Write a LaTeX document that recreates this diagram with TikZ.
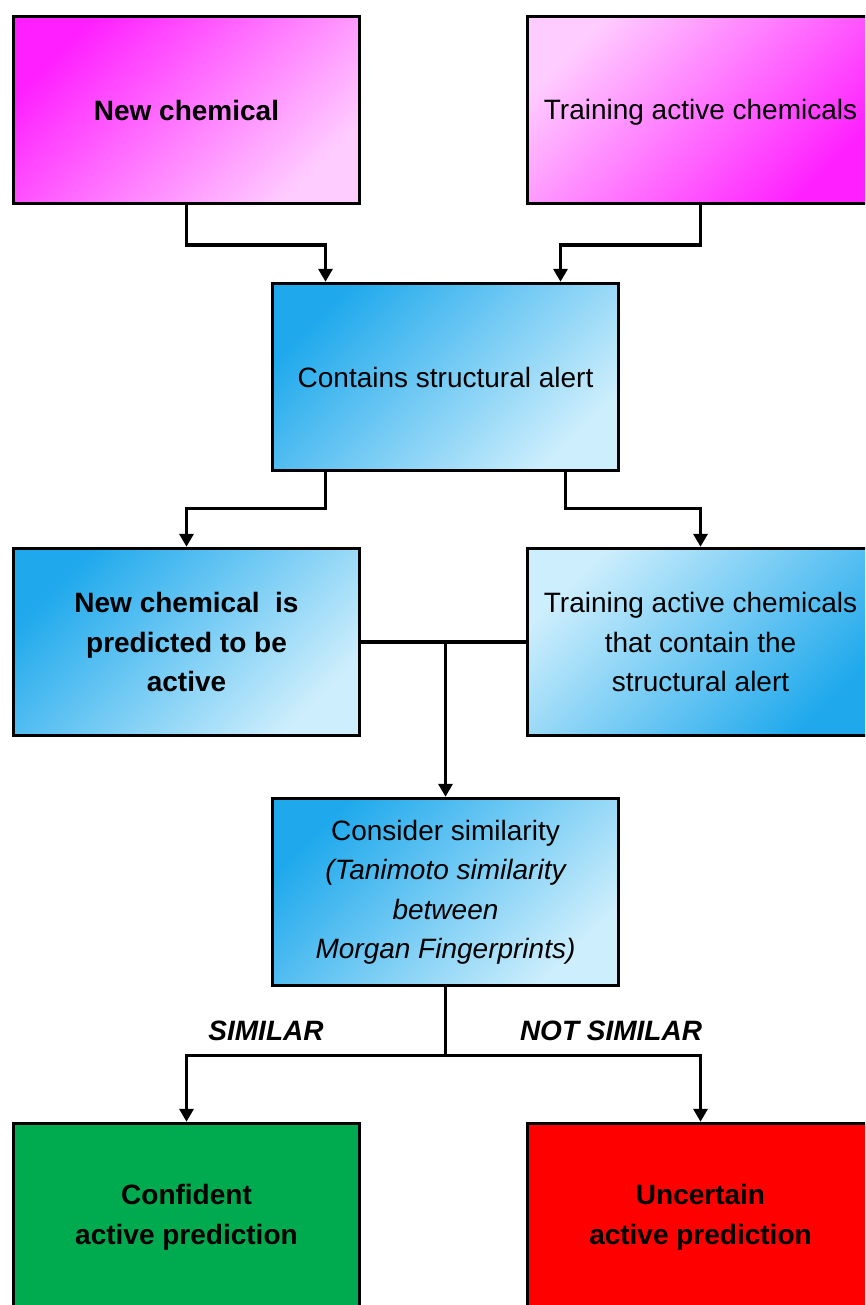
\documentclass[tikz,border=0pt]{standalone}
\usepackage{fontspec}
\setmainfont{Liberation Sans}
\usetikzlibrary{arrows.meta}
\definecolor{magdeep}{HTML}{FF1FFF}
\definecolor{magpale}{HTML}{FFCCFF}
\definecolor{bluedeep}{HTML}{1FA9EC}
\definecolor{bluepale}{HTML}{CDEEFC}
\definecolor{okgreen}{HTML}{00AA4F}
\definecolor{badred}{HTML}{FF0000}
\tikzset{
  box/.style={draw=black, line width=3.4pt, minimum width=346pt, minimum height=187pt,
    inner sep=0pt, align=center, font=\fontsize{28}{39.5}\selectfont},
  magA/.style={box, top color=magdeep, bottom color=magpale, shading angle=45},
  magB/.style={box, top color=magpale, bottom color=magdeep, shading angle=45},
  bluA/.style={box, top color=bluedeep, bottom color=bluepale, shading angle=45},
  bluB/.style={box, top color=bluepale, bottom color=bluedeep, shading angle=45},
  conn/.style={draw=black, line width=3.4pt},
  arr/.style={conn, -{Triangle[length=13pt,width=14pt]}},
  lbl/.style={font=\fontsize{28}{34}\selectfont\bfseries\itshape, inner sep=0pt}
}
\begin{document}
\begin{tikzpicture}[x=1pt,y=-1pt]
\useasboundingbox (0,0) rectangle (865,1305);
\begin{scope}
\clip (0,0) rectangle (865,1305);
% inputs
\node[magA, font=\fontsize{28}{39.5}\selectfont\bfseries] (newchem) at (186.5,110) {New chemical};
\node[magB, text depth=2pt] (trainact) at (700.5,110) {Training active chemicals};
% alert check
\node[bluA] (alert) at (445.5,377) {Contains structural alert};
% alert outcomes
\node[bluA, font=\fontsize{28}{39.5}\selectfont\bfseries] (predact) at (186.5,642) {New chemical\ \ is\\predicted to be\\active};
\node[bluB] (trainalert) at (700.5,642) {Training active chemicals\\that contain the\\structural alert};
% similarity
\node[bluA] (simil) at (445.5,892) {Consider similarity\\\itshape(Tanimoto similarity\\\itshape between\\\itshape Morgan Fingerprints)};
% results
\node[box, fill=okgreen, font=\fontsize{28}{39.5}\selectfont\bfseries] (confident) at (186.5,1217) {Confident\\active prediction};
\node[box, fill=badred, font=\fontsize{28}{39.5}\selectfont\bfseries] (uncertain) at (700.5,1217) {Uncertain\\active prediction};

% connectors
\draw[arr] (newchem.south) -- ++(0,40) -| ([xshift=-120pt]alert.north);
\draw[arr] (trainact.south) -- ++(0,40) -| ([xshift=115pt]alert.north);
\draw[arr] ([xshift=-120pt]alert.south) -- ++(0,36) -| (predact.north);
\draw[arr] ([xshift=120pt]alert.south) -- ++(0,36) -| (trainalert.north);
\draw[conn] (predact.east) -- (trainalert.west);
\draw[arr] (predact.east -| simil.north) -- (simil.north);
\draw[conn] (simil.south) -- ++(0,68) coordinate (split);
\draw[arr] (split) -| (confident.north);
\draw[arr] (split) -| (uncertain.north);
\node[lbl] (simlbl) at (266,1031) {SIMILAR};
\node[lbl] (notsimlbl) at (611,1031) {NOT SIMILAR};
\end{scope}
\end{tikzpicture}
\end{document}
